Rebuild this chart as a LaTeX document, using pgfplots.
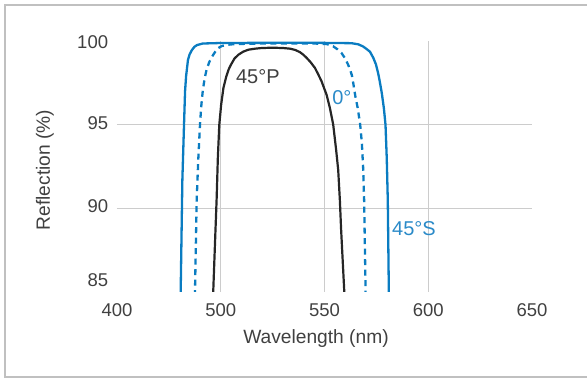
\documentclass[border=0pt]{standalone}
\usepackage{fontspec}
\setmainfont{Liberation Sans}
\usepackage{pgfplots}
\pgfplotsset{compat=1.18}
\definecolor{cblue}{HTML}{0A7CC1}
\definecolor{lblue}{HTML}{2A8AC8}
\definecolor{ctext}{HTML}{404040}
\definecolor{cgrid}{HTML}{CCCCCC}
\definecolor{cframe}{HTML}{C0C0C0}
\begin{document}
\begin{tikzpicture}
\useasboundingbox (0,0) rectangle (587pt,-379pt);
\draw[cframe, line width=1.8pt] (600pt,-4.8pt) -- (5.3pt,-4.8pt) -- (5.3pt,-377.3pt) -- (600pt,-377.3pt);
\begin{axis}[
  at={(117pt,-292pt)}, anchor=south west,
  width=415pt, height=251pt, scale only axis,
  xmin=450, xmax=650, ymin=85, ymax=100,
  axis line style={draw=none}, major tick length=0pt, tick style={draw=none},
  xtick={450,500,550,600,650}, xticklabels={400,500,550,600,650},
  ytick={85.72,90.14,95.12,99.96}, yticklabels={85,90,95,100},
  extra x ticks={500,550,600}, extra x tick labels={,,},
  extra x tick style={grid=major},
  extra y ticks={90,95}, extra y tick labels={,},
  extra y tick style={grid=major},
  grid style={cgrid, line width=0.9pt},
  tick label style={font=\fontsize{18.5}{22}\selectfont, text=ctext},
  xticklabel style={anchor=base, inner sep=0pt, yshift=-24.5pt},
  yticklabel style={anchor=east, inner sep=0pt, xshift=-8.7pt},
  xlabel={Wavelength (nm)}, ylabel={Reflection (\%)},
  label style={font=\fontsize{19.2}{23}\selectfont, text=ctext},
  xlabel style={at={(axis description cs:0.4795,-0.187)}, anchor=center},
  ylabel style={at={(axis description cs:-0.1735,0.486)}, anchor=center, rotate=0},
]
\addplot[cblue, line width=2.3pt, line join=round] table {
480.4 83.5
480.7 85.1
481.5 91.7
482.3 95.0
482.8 97.0
483.3 97.9
484.2 98.87
485.0 99.2
486.1 99.46
487.3 99.65
488.6 99.76
491.4 99.85
500 99.88
540 99.9
563 99.87
566.3 99.80
568.5 99.68
570.3 99.52
571.9 99.36
573.5 99.0
574.8 98.6
575.8 98.1
576.5 97.67
577.6 96.9
578.6 96.0
579.4 95.0
580.0 93.0
580.5 90.5
581.0 85.1
581.1 83.5
};
\addplot[cblue, line width=2.3pt, dash pattern=on 6pt off 4.5pt] table {
487.4 83.5
487.6 85.1
488.4 90.5
489.2 93.0
490.0 95.0
490.6 96.1
491.4 97.1
492.3 97.8
493.2 98.3
494.5 98.75
496 99.1
497.4 99.37
498.8 99.58
500.5 99.7
503 99.77
507 99.82
520 99.85
545 99.85
551 99.82
554.2 99.68
556.3 99.5
558.2 99.28
560 98.95
561.4 98.58
562.4 98.25
563.2 97.95
563.9 97.45
564.4 97.05
565.0 96.6
566.0 96.0
567.2 95.0
568.0 93.9
568.6 92.5
569.1 90.5
569.8 85.1
569.9 83.5
};
\addplot[black!85, line width=2.2pt, line join=round] table {
496.2 83.5
496.4 85.1
497.4 88.5
498.0 90.5
498.6 93.0
499.3 95.0
500.2 96.2
501.3 97.2
502.6 97.85
503.8 98.3
505.0 98.6
506.6 98.95
508.5 99.18
510.8 99.36
513.3 99.48
516.5 99.54
519.7 99.58
525 99.6
530 99.58
533.5 99.54
536 99.46
538.2 99.33
539.8 99.18
541.4 98.99
543.4 98.72
545.4 98.39
547.0 98.0
548.6 97.59
549.9 97.15
551.0 96.79
552.6 96.0
554.2 95.0
555.6 93.5
556.6 92.3
557.4 90.5
558.0 88.75
559.5 85.1
559.6 83.5
};
\node[text=ctext, font=\fontsize{20}{24}\selectfont, inner sep=0pt] at (axis cs:517.9,97.85) {45°P};
\node[text=lblue, font=\fontsize{20}{24}\selectfont, inner sep=0pt] at (axis cs:558.4,96.6) {0°};
\node[text=lblue, font=\fontsize{20}{24}\selectfont, inner sep=0pt] at (axis cs:593.1,88.76) {45°S};
\end{axis}
\end{tikzpicture}
\end{document}
